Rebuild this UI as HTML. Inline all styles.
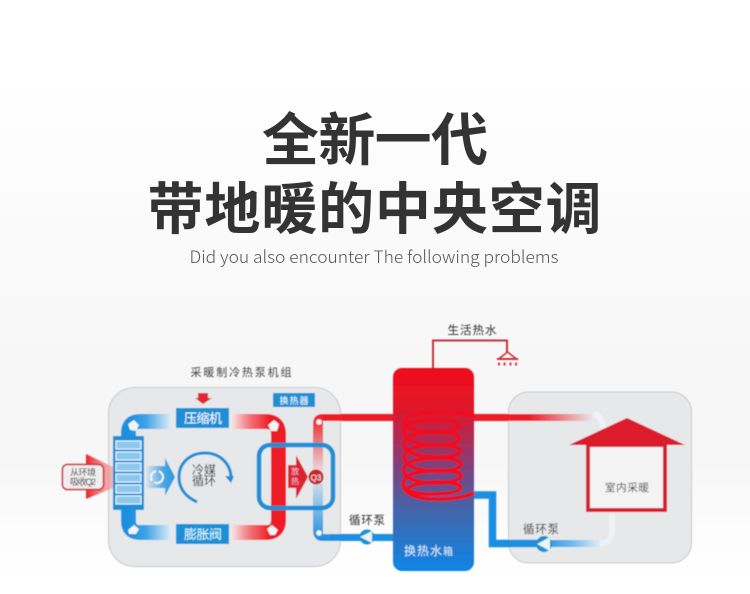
<!DOCTYPE html>
<html lang="zh"><head><meta charset="utf-8"><title>全新一代带地暖的中央空调</title>
<style>html,body{margin:0;padding:0;background:#fff}svg{display:block}
text{font-family:"Liberation Sans","Noto Sans CJK SC",sans-serif;text-anchor:middle}</style></head>
<body>
<svg width="750" height="594" viewBox="0 0 750 594" xmlns="http://www.w3.org/2000/svg">
<defs>
<linearGradient id="bg" x1="0" y1="0" x2="0" y2="1"><stop offset="0" stop-color="#fff"/><stop offset=".13" stop-color="#fff"/><stop offset=".34" stop-color="#fbfbfb"/><stop offset=".6" stop-color="#f7f7f7"/><stop offset=".78" stop-color="#f7f7f7"/><stop offset=".97" stop-color="#fff"/><stop offset="1" stop-color="#fff"/></linearGradient>
<linearGradient id="tank" x1="0" y1="0" x2="0" y2="1"><stop offset="0" stop-color="#ef0f1c"/><stop offset=".2" stop-color="#e0152a"/><stop offset=".5" stop-color="#7c4380"/><stop offset=".72" stop-color="#3e68ae"/><stop offset="1" stop-color="#0f86e6"/></linearGradient>
<linearGradient id="pipeBlue" gradientUnits="userSpaceOnUse" x1="128" y1="0" x2="172" y2="0"><stop offset="0" stop-color="#1a8fe0"/><stop offset=".4" stop-color="#3fa2e6"/><stop offset="1" stop-color="#e3eff7"/></linearGradient>
<linearGradient id="pipeRed" gradientUnits="userSpaceOnUse" x1="232" y1="0" x2="270" y2="0"><stop offset="0" stop-color="#f6e4e5"/><stop offset=".45" stop-color="#f4777c"/><stop offset="1" stop-color="#ee1c25"/></linearGradient>
<linearGradient id="fadeRedR" x1="0" y1="0" x2="1" y2="0"><stop offset="0" stop-color="#ee1c25"/><stop offset=".45" stop-color="#ee1c25"/><stop offset="1" stop-color="#ee1c25" stop-opacity="0"/></linearGradient>
<linearGradient id="fadeBlueR" x1="0" y1="0" x2="1" y2="0"><stop offset="0" stop-color="#1a8fe0"/><stop offset=".5" stop-color="#6db8ec"/><stop offset="1" stop-color="#e6f0f6"/></linearGradient>
<linearGradient id="vRed" x1="0" y1="0" x2="0" y2="1"><stop offset="0" stop-color="#ee1c25"/><stop offset="1" stop-color="#ee1c25" stop-opacity="0"/></linearGradient>
<linearGradient id="vBlue" x1="0" y1="0" x2="0" y2="1"><stop offset="0" stop-color="#1a8fe0" stop-opacity="0"/><stop offset="1" stop-color="#1a8fe0"/></linearGradient>
<linearGradient id="arrowB" x1="0" y1="0" x2="1" y2="0"><stop offset="0" stop-color="#4aa6e6" stop-opacity=".05"/><stop offset=".6" stop-color="#4aa6e6"/><stop offset="1" stop-color="#2a96dd"/></linearGradient>
<linearGradient id="arrowR" x1="0" y1="0" x2="1" y2="0"><stop offset="0" stop-color="#e8242c"/><stop offset="1" stop-color="#f08a8a" stop-opacity=".5"/></linearGradient>
<filter id="soft" x="-5%" y="-5%" width="110%" height="110%"><feGaussianBlur stdDeviation=".4"/></filter>
</defs>
<rect width="750" height="594" fill="url(#bg)"/>

<text x="375" y="160" font-size="57" font-weight="700" fill="#333" textLength="226" lengthAdjust="spacing">全新一代</text>
<text x="374.500" y="229" font-size="56" font-weight="700" fill="#333" textLength="454" lengthAdjust="spacing">带地暖的中央空调</text>
<text x="374" y="263" font-size="17" fill="#555" textLength="369" lengthAdjust="spacingAndGlyphs" style='font-family:"Noto Sans CJK SC","Liberation Sans",sans-serif;font-weight:300'>Did you also encounter The following problems</text>

<g filter="url(#soft)">
<rect x="108.500" y="387.500" width="232" height="179" rx="26" fill="#e7e8ea" stroke="#c8c9cb"/>
<rect x="508.500" y="392" width="183" height="171" rx="20" fill="#e7e8ea" stroke="#c8c9cb"/>

<text x="241" y="376" font-size="11" fill="#444" textLength="101">采暖制冷热泵机组</text>
<polygon points="198,393 208,393 208,398 212,398 203,404 195,398 198,398" fill="#e02a30"/>

<!-- left blue loop -->
<path d="M172 421.500H140Q128.500 421.500 128.500 433V440" fill="none" stroke="url(#pipeBlue)" stroke-width="15"/>
<path d="M172 532.500H140Q128.500 532.500 128.500 521V505" fill="none" stroke="url(#pipeBlue)" stroke-width="15"/>
<!-- red loop -->
<path d="M232 421.500H266Q278.500 421.500 278.500 434V520Q278.500 532.500 266 532.500H232" fill="none" stroke="url(#pipeRed)" stroke-width="15"/>
<rect x="271" y="432" width="15" height="90" fill="#ee1c25"/>

<rect x="176" y="408" width="53" height="20" fill="#1a8fd6"/>
<text x="203" y="423" font-size="13" fill="#fff" textLength="38">压缩机</text>
<rect x="176" y="524" width="53" height="20" fill="#1a8fd6"/>
<text x="203" y="539" font-size="13" fill="#dff" textLength="38">膨胀阀</text>
<rect x="273" y="393" width="42" height="14" fill="#1a8fd6"/>
<text x="294" y="404" font-size="9" fill="#fff" textLength="29">换热器</text>

<!-- evaporator -->
<rect x="113" y="436" width="31" height="74" fill="#1a8fd6"/>
<g fill="#8cc8ee" stroke="#eef7fc" stroke-width="1.100">
<rect x="116" y="441" width="25" height="8"/>
<rect x="116" y="452" width="25" height="8"/>
<rect x="116" y="463" width="25" height="8"/>
<rect x="116" y="474" width="25" height="8"/>
<rect x="116" y="485" width="25" height="8"/>
<rect x="116" y="496" width="25" height="8"/>
</g>

<!-- corner arrows -->
<g fill="#f0f5f8">
<polygon points="128,424 134,420 139,425 136,431 130,430"/>
<polygon points="128,530 134,525 139,529 136,534 129,534" />
<polygon points="268,425 274,420 279,424 277,431 271,431"/>
<polygon points="267,529 272,525 278,530 275,535 270,535"/>
</g>

<!-- heat-in arrow -->
<polygon points="86,465 86,454 113,467 113,488 86,499 86,489" fill="url(#arrowR)"/>
<rect x="62.500" y="464.500" width="41" height="25" rx="5" fill="#f0eeee" stroke="#c9303a" stroke-width="1.500"/>
<text x="83" y="475.500" font-size="9" fill="#333" textLength="26">从环境</text>
<text x="83" y="485" font-size="9" fill="#333" textLength="26">吸收Q2</text>

<!-- blue arrow + swirl -->
<polygon points="146,466 165,466 165,458 175,477 165,496 165,488 146,488" fill="url(#arrowB)"/>
<circle cx="157" cy="477" r="6" fill="none" stroke="#f3f8fb" stroke-width="2" stroke-dasharray="12 3"/>

<!-- refrigerant cycle -->
<path d="M197 502C184 496 179 487 179 477C179 463 190 453 205 453C220 453 231 464 231 478" fill="none" stroke="#1a8fd6" stroke-width="3"/>
<polygon points="225,476 234,476 231,483" fill="#1a8fd6"/>
<text x="198" y="474" font-size="12" fill="#333">冷</text>
<text x="210" y="474" font-size="12" fill="#333">媒</text>
<text x="198" y="485" font-size="12" fill="#333">循</text>
<text x="210" y="485" font-size="12" fill="#333">环</text>

<!-- right pipe -->
<rect x="323" y="414" width="70" height="7" fill="#ee1c25"/>
<path d="M313 475V424Q313 414 323 414H326V421H323V475Z" fill="url(#vRed)"/>
<path d="M313 475V530Q313 541 323 541H330V534H323V475Z" fill="url(#vBlue)"/>
<rect x="330" y="534" width="63" height="7" fill="#1a8fe0"/>
<circle cx="319" cy="422" r="2.800" fill="#f2f5f7"/>
<circle cx="319" cy="533" r="2.800" fill="#f2f5f7"/>

<!-- exchanger frame -->
<rect x="259" y="445" width="74" height="63" rx="11" fill="none" stroke="#1a8fd6" stroke-width="4.500"/>
<polygon points="288,465 296,465 296,455 308,477 296,499 296,488 288,488" fill="#d9262e"/>
<text x="295" y="474" font-size="8" fill="#fbd">放</text>
<text x="295" y="484" font-size="8" fill="#fbd">热</text>
<circle cx="316" cy="477" r="7.500" fill="#c8202a"/>
<text x="316" y="480.500" font-size="8" fill="#fff">Q3</text>

<!-- tank connection pipes right -->
<rect x="474" y="414" width="120" height="7" fill="url(#fadeRedR)"/>
<path d="M593 414Q603 416 603 428" fill="none" stroke="#f4f8fb" stroke-width="6" opacity=".7"/>
<path d="M474 495H492.500V543.500H540" fill="none" stroke="#1a8fe0" stroke-width="7.500"/>
<rect x="540" y="540" width="62" height="7" fill="url(#fadeBlueR)"/>
<path d="M600 543.500Q612 543.500 612 531V515" fill="none" stroke="#eef4f8" stroke-width="6" opacity=".8"/>

<!-- tank -->
<path d="M433 368V340.500H507V352" fill="none" stroke="#c9303a" stroke-width="2"/>
<rect x="393" y="368" width="81" height="203" rx="9" fill="url(#tank)"/>
<text x="423" y="555" font-size="12" fill="#dbeefc" textLength="38">换热水</text>
<text x="448" y="555" font-size="10" fill="#dbeefc">箱</text>

<!-- coil -->
<g fill="none" stroke="#f01020" stroke-width="4">
<path d="M474 415C450 411 410 410 405 421C402 430 424 433 440 432C452 431 461 429 458 424C452 417 420 419 408 424"/>
<path d="M408 424C398 433 407 443 430 445C450 446 462 442 458 436C452 430 420 431 408 437"/>
<path d="M408 437C398 446 408 456 432 457C452 458 463 454 459 449C452 443 420 444 408 450"/>
<path d="M408 450C398 459 408 470 432 471C452 472 464 468 460 462C453 456 420 457 408 463"/>
<path d="M408 463C397 472 408 483 434 483C452 483 464 479 460 474C453 468 420 470 407 476"/>
<path d="M407 476C398 486 405 498 432 499C450 500 465 497 474 493"/>
<path d="M407 488C420 481 452 480 460 486C464 491 450 494 432 494C418 494 408 492 407 488"/>
</g>

<!-- shower -->
<text x="472" y="334" font-size="11.500" fill="#333" textLength="49">生活热水</text>
<path d="M498.500 359L507.500 352L516.500 359Z" fill="none" stroke="#c9303a" stroke-width="1.500"/>
<rect x="497" y="358" width="21" height="2" fill="#c9303a"/>
<path d="M499 362.500v3M504.500 362.500v3M510.500 362.500v3M516 362.500v3" stroke="#c9303a" stroke-width="1.800"/>

<!-- house -->
<rect x="588" y="445" width="77" height="65" fill="#f3f3f3" stroke="#d3222f" stroke-width="4"/>
<polygon points="569,445 627,418 685,445" fill="#dc1f2c"/>
<text x="627" y="491" font-size="10.500" fill="#444" textLength="44">室内采暖</text>

<!-- pumps -->
<text x="367" y="524" font-size="11.500" fill="#333" textLength="36">循环泵</text>
<circle cx="367" cy="537" r="7.500" fill="#1a8fd6"/>
<polygon points="360,537 372,531 372,543" fill="#eaf3f8"/>
<text x="541" y="533" font-size="11.500" fill="#333" textLength="36">循环泵</text>
<circle cx="544" cy="544" r="8" fill="#1a8fd6"/>
<polygon points="537,544 550,537 550,551" fill="#eaf3f8"/>
</g>
</svg>
</body></html>
